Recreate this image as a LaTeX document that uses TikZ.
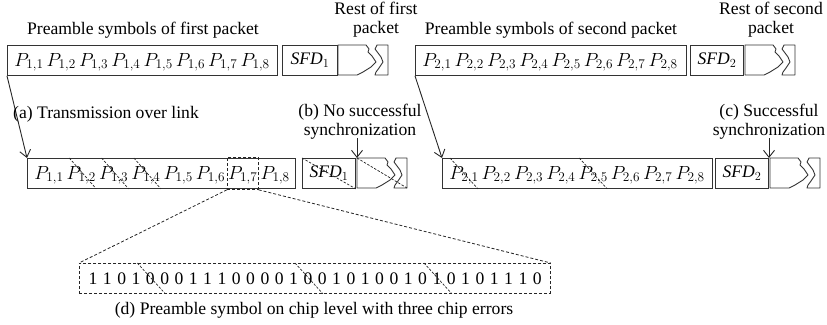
\RequirePackage{fix-cm}
\documentclass[tikz,border=0pt]{standalone}
\usepackage{fontspec}
\setmainfont{Liberation Serif}
\usetikzlibrary{arrows.meta,calc}
\tikzset{
  box/.style={draw=black!80, line width=0.9pt, inner sep=0pt, anchor=north west, minimum height=30pt},
  sym/.style={inner sep=0pt, anchor=base, font=\fontsize{19}{22}\selectfont},
  chipdigit/.style={inner sep=0pt, anchor=base},
  lbl/.style={inner sep=0pt, align=center},
  dsh/.style={draw=black!85, line width=0.8pt, dash pattern=on 3pt off 2pt},
  err/.style={draw=black!85, line width=0.7pt, dash pattern=on 2.5pt off 1.5pt},
  arr/.style={draw=black!85, line width=0.9pt, -{Straight Barb[length=7pt,width=11pt]}},
  tornline/.style={draw=black!80, line width=0.9pt, line join=round},
}
\newcommand{\restpkt}[2]{%
  \begin{scope}[shift={(#1,#2)}]
    \draw[tornline] (0,0) -- (28,0) -- (31,4) -- (30,7) -- (34,11) -- (38,17) -- (33,22) -- (25,27) -- (19,30) -- (0,30) -- cycle;
    \draw[tornline] (39,0) -- (50,0) -- (50,30) -- (37,30) -- (38,27) -- (41,23) -- (45,17) -- (43,12) -- (40,8) -- (37,4) -- cycle;
  \end{scope}}
\begin{document}
\begin{tikzpicture}[x=1pt,y=-1pt,font=\fontsize{17.6}{19}\selectfont]
\useasboundingbox (0,0) rectangle (827,324);
% ---- headings
\node[lbl] (h1) at (143,30) {Preamble symbols of first packet};
\node[lbl] (r1) at (376,20) {Rest of first\\packet};
\node[lbl] (h2) at (551,30) {Preamble symbols of second packet};
\node[lbl] (r2) at (771,20) {Rest of second\\packet};
% ---- top row, first packet
\node[box, minimum width=270pt] (pa) at (7,45) {};
\foreach \i in {1,...,8} \node[sym] (pa\i) at ({29+32.3*(\i-1)},66) {$P_{1,\i}$};
\node[box, minimum width=55pt] (sa) at (282,45) {$\mathit{SFD}_1$};
\restpkt{338}{45}
% ---- top row, second packet
\node[box, minimum width=271pt] (pb) at (415,45) {};
\foreach \i in {1,...,8} \node[sym] (pb\i) at ({437+32.3*(\i-1)},66) {$P_{2,\i}$};
\node[box, minimum width=53pt] (sb) at (690,45) {$\mathit{SFD}_2$};
\restpkt{745}{45}
% ---- bottom row, first packet
\node[box, minimum width=268pt] (qa) at (27,158) {};
\foreach \i in {1,...,8} \node[sym] (qa\i) at ({49+32.3*(\i-1)},179) {$P_{1,\i}$};
\node[box, minimum width=53pt] (ta) at (302,158) {$\mathit{SFD}_1$};
\restpkt{357}{158}
\coordinate (ua) at (357,158);
\coordinate (uaend) at (407,188);
% ---- bottom row, second packet
\node[box, minimum width=270pt] (qb) at (442,158) {};
\foreach \i in {1,...,8} \node[sym] (qb\i) at ({464+32.3*(\i-1)},179) {$P_{2,\i}$};
\node[box, minimum width=53pt] (tb) at (715,158) {$\mathit{SFD}_2$};
\restpkt{770}{158}
\coordinate (ub) at (769,158);
% ---- arrows and labels
\draw[arr] (pa.south west) -- (qa.north west);
\draw[arr] (pb.south west) -- (qb.north west);
\coordinate (ba) at (357,138);
\coordinate (bb) at (769,138);
\draw[arr] (ba) -- (ua);
\draw[arr] (bb) -- (ub);
\node[lbl, anchor=west] (la) at (13,114) {(a) Transmission over link};
\node[lbl] (lb) at (360,122) {(b) No successful\\synchronization};
\node[lbl] (lc) at (769,122) {(c) Successful\\synchronization};
% ---- erroneous symbols
\foreach \i in {2,3,4} \draw[err] ($(qa\i |- qa.north)+(-12,0)$) -- ($(qa\i |- qa.south)+(15,0)$);
\foreach \i in {1,5} \draw[err] ($(qb\i |- qb.north)+(-14,0)$) -- ($(qb\i |- qb.south)+(14,0)$);
\draw[err] (ta.north west) -- (ta.south east);
\draw[err] (ua) -- (uaend);
% ---- zoom on P_{1,7}
\node[dsh, inner sep=0pt, minimum width=31pt, minimum height=32pt] (zm) at (qa7 |- qa.center) {};
\node[dsh, inner sep=0pt, anchor=north west, minimum width=471pt, minimum height=30pt] (chip) at (79,263) {};
\foreach \chipv [count=\i] in {1,1,0,1,0,0,0,1,1,1,0,0,0,0,1,0,0,1,0,1,0,0,1,0,1,0,1,0,1,1,1,0}
  \node[chipdigit] (c\i) at ({93+14.33*(\i-1)},284) {\chipv};
\foreach \i in {5,16,25} \draw[err] ($(c\i |- chip.north)+(-13,0)$) -- ($(c\i |- chip.south)+(15,0)$);
\draw[dsh] (zm.south west) -- (chip.north west);
\draw[dsh] (zm.south east) -- (chip.north east);
\node[lbl] (ld) at (314,310) {(d) Preamble symbol on chip level with three chip errors};
\end{tikzpicture}
\end{document}
